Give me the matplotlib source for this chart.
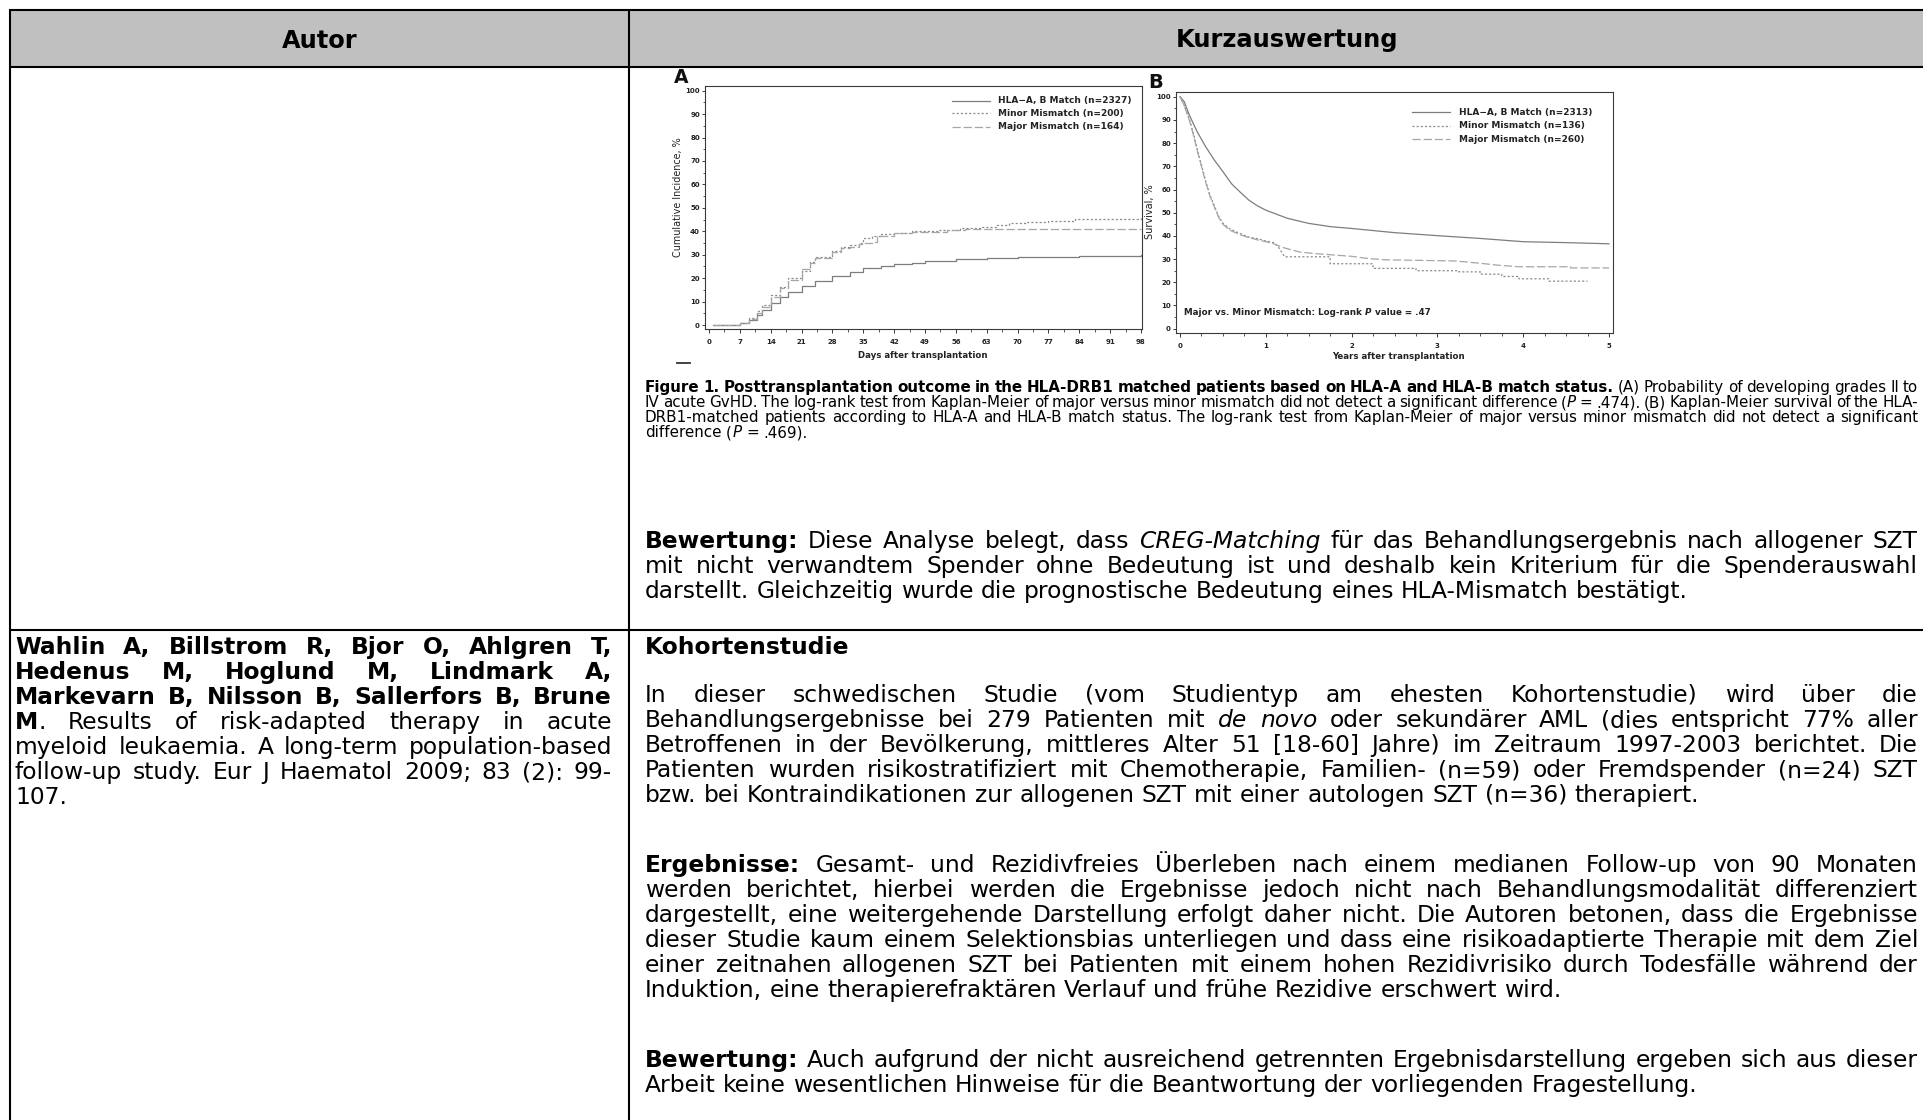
import matplotlib
matplotlib.use("Agg")
import matplotlib.pyplot as plt
from matplotlib.patches import Rectangle

W, H, DPI = 1924, 1120, 100
plt.rcParams["font.family"] = ["DejaVu Sans"]
plt.rcParams["lines.scale_dashes"] = False

# ---------------- table header ----------------
header_labels = ["Autor", "Kurzauswertung"]

# ---------------- panel A: cumulative incidence of acute GvHD ----------------
legend_a = ["HLA\u2212A, B Match (n=2327)", "Minor Mismatch (n=200)", "Major Mismatch (n=164)"]
days_match = [1, 6, 7, 9, 11, 12, 14, 16, 18, 21, 24, 28, 32, 35, 39, 42, 46, 49, 56, 63, 70, 77, 84, 90, 98]
cuminc_match = [0, 0, 0.7, 2.1, 4.3, 6.4, 9.5, 11.8, 14.2, 16.8, 18.9, 20.9, 22.8, 24.5, 25.3, 26.0,
                26.6, 27.2, 28.0, 28.6, 29.0, 29.2, 29.3, 29.6, 29.9]
days_minor = [1, 6, 7, 9, 11, 12, 14, 16, 18, 21, 23, 24, 28, 30, 32, 34, 35, 37, 39, 42, 46, 49, 52,
              57, 62, 65, 68, 72, 77, 83, 98]
cuminc_minor = [0, 0, 0.9, 2.8, 6.1, 8.5, 12.8, 16.4, 19.9, 23.2, 27.0, 29.2, 31.7, 33.4, 34.1, 35.1,
                37.0, 38.1, 39.0, 39.4, 40.0, 40.3, 40.5, 41.3, 42.0, 42.7, 43.4, 43.8, 44.4, 45.2, 45.5]
days_major = [1, 6, 7, 9, 11, 12, 14, 16, 18, 21, 23, 24, 28, 30, 32, 34, 35, 37, 38, 42, 46, 49, 54, 58, 98]
cuminc_major = [0, 0, 0.7, 2.4, 5.3, 7.8, 11.8, 15.6, 19.2, 23.8, 26.3, 28.4, 31.3, 32.7, 33.4, 34.6,
                35.1, 35.6, 38.0, 39.4, 39.7, 39.8, 40.5, 41.0, 41.0]
days_ticks = [0, 7, 14, 21, 28, 35, 42, 49, 56, 63, 70, 77, 84, 91, 98]
pct_ticks = [0, 10, 20, 30, 40, 50, 60, 70, 80, 90, 100]
ylabel_a = "Cumulative Incidence, %"
xlabel_a = "Days after transplantation"

# ---------------- panel B: overall survival ----------------
legend_b = ["HLA\u2212A, B Match (n=2313)", "Minor Mismatch (n=136)", "Major Mismatch (n=260)"]
years_match = [0, 0.05, 0.1, 0.2, 0.3, 0.4, 0.5, 0.6, 0.7, 0.8, 0.9, 1.0, 1.25, 1.5, 1.75, 2.0, 2.5,
               3.0, 3.5, 4.0, 4.5, 5.0]
surv_match = [100, 97.8, 92.8, 84.9, 78.4, 72.7, 67.7, 62.5, 58.9, 55.5, 53.0, 51.1, 47.6, 45.4, 44.0,
              43.2, 41.4, 40.1, 38.9, 37.5, 37.1, 36.6]
years_minor = [0, 0.04, 0.08, 0.12, 0.16, 0.2, 0.25, 0.3, 0.35, 0.4, 0.45, 0.5, 0.58, 0.7, 0.8, 0.9,
               1.0, 1.1, 1.15, 1.22, 1.75, 1.75, 2.25, 2.25, 2.75, 2.75, 3.25, 3.25, 3.5, 3.5, 3.75,
               3.75, 3.95, 3.95, 4.3, 4.3, 4.75]
surv_minor = [100, 97, 93.5, 89, 83.5, 77.5, 70.5, 63.5, 57.5, 53, 48.5, 45.5, 43, 41, 39.5, 38.8,
              37.8, 37, 35, 31, 31, 28, 28, 26, 26, 25, 25, 24.5, 24.5, 23.5, 23.5, 22.5, 22.5,
              21.5, 21.5, 20.5, 20.5]
years_major = [0, 0.04, 0.08, 0.12, 0.16, 0.2, 0.25, 0.3, 0.35, 0.4, 0.45, 0.5, 0.58, 0.7, 0.8, 0.9,
               1.0, 1.1, 1.2, 1.4, 1.6, 2.0, 2.2, 2.4, 3.2, 3.5, 3.7, 3.95, 4.55, 4.55, 5.0]
surv_major = [100, 97, 93, 88.5, 83, 77, 70, 63, 57, 52.5, 48, 45, 42.5, 40.5, 39.3, 38.3, 37.5, 36.5,
              35, 33, 32.3, 31.2, 30.2, 29.7, 29.2, 28.2, 27.4, 26.7, 26.7, 26.2, 26.2]
years_ticks = [0, 1, 2, 3, 4, 5]
ylabel_b = "Survival, %"
xlabel_b = "Years after transplantation"
logrank_note = [("Major vs. Minor Mismatch: Log-rank ", "b"), ("P", "bi"), (" value = .47", "b")]

# ---------------- table text ----------------
caption_lines = [
    [("Figure 1. Posttransplantation outcome in the HLA-DRB1 matched patients based on HLA-A and "
      "HLA-B match status.", "b"), (" (A) Probability of developing grades II to", "n")],
    [("IV acute GvHD. The log-rank test from Kaplan-Meier of major versus minor mismatch did not "
      "detect a significant difference (", "n"), ("P", "i"),
     (" = .474). (B) Kaplan-Meier survival of the HLA-", "n")],
    [("DRB1-matched patients according to HLA-A and HLA-B match status. The log-rank test from "
      "Kaplan-Meier of major versus minor mismatch did not detect a significant", "n")],
    [("difference (", "n"), ("P", "i"), (" = .469).", "n")],
]
rating_lines_1 = [
    [("Bewertung:", "b"), (" Diese Analyse belegt, dass ", "n"), ("CREG-Matching", "i"),
     (" für das Behandlungsergebnis nach allogener SZT", "n")],
    [("mit nicht verwandtem Spender ohne Bedeutung ist und deshalb kein Kriterium für die "
      "Spenderauswahl", "n")],
    [("darstellt. Gleichzeitig wurde die prognostische Bedeutung eines HLA-Mismatch bestätigt.", "n")],
]
author_lines = [
    [("Wahlin A, Billstrom R, Bjor O, Ahlgren T,", "b")],
    [("Hedenus M, Hoglund M, Lindmark A,", "b")],
    [("Markevarn B, Nilsson B, Sallerfors B, Brune", "b")],
    [("M", "b"), (". Results of risk-adapted therapy in acute", "n")],
    [("myeloid leukaemia. A long-term population-based", "n")],
    [("follow-up study. Eur J Haematol 2009; 83 (2): 99-", "n")],
    [("107.", "n")],
]
study_type = [[("Kohortenstudie", "b")]]
methods_lines = [
    [("In dieser schwedischen Studie (vom Studientyp am ehesten Kohortenstudie) wird über die", "n")],
    [("Behandlungsergebnisse bei 279 Patienten mit ", "n"), ("de novo", "i"),
     (" oder sekundärer AML (dies entspricht 77% aller", "n")],
    [("Betroffenen in der Bevölkerung, mittleres Alter 51 [18-60] Jahre) im Zeitraum 1997-2003 "
      "berichtet. Die", "n")],
    [("Patienten wurden risikostratifiziert mit Chemotherapie, Familien- (n=59) oder Fremdspender "
      "(n=24) SZT", "n")],
    [("bzw. bei Kontraindikationen zur allogenen SZT mit einer autologen SZT (n=36) therapiert.", "n")],
]
results_lines = [
    [("Ergebnisse:", "b"), (" Gesamt- und Rezidivfreies Überleben nach einem medianen Follow-up von "
                             "90 Monaten", "n")],
    [("werden berichtet, hierbei werden die Ergebnisse jedoch nicht nach Behandlungsmodalität "
      "differenziert", "n")],
    [("dargestellt, eine weitergehende Darstellung erfolgt daher nicht. Die Autoren betonen, dass die "
      "Ergebnisse", "n")],
    [("dieser Studie kaum einem Selektionsbias unterliegen und dass eine risikoadaptierte Therapie mit "
      "dem Ziel", "n")],
    [("einer zeitnahen allogenen SZT bei Patienten mit einem hohen Rezidivrisiko durch Todesfälle "
      "während der", "n")],
    [("Induktion, eine therapierefraktären Verlauf und frühe Rezidive erschwert wird.", "n")],
]
rating_lines_2 = [
    [("Bewertung:", "b"), (" Auch aufgrund der nicht ausreichend getrennten Ergebnisdarstellung "
                            "ergeben sich aus dieser", "n")],
    [("Arbeit keine wesentlichen Hinweise für die Beantwortung der vorliegenden Fragestellung.", "n")],
]

# ---------------- page canvas in pixel units ----------------
STY = {
    "n": dict(fontweight="normal", fontstyle="normal"),
    "b": dict(fontweight="bold", fontstyle="normal"),
    "i": dict(fontweight="normal", fontstyle="italic"),
    "bi": dict(fontweight="bold", fontstyle="italic"),
}
TXT = "#222222"
FRAME = "#3a3a3a"

fig = plt.figure(figsize=(W / DPI, H / DPI), dpi=DPI)
page = fig.add_axes([0, 0, 1, 1])
page.set_xlim(0, W)
page.set_ylim(H, 0)
page.axis("off")
renderer = fig.canvas.get_renderer()

_cache = {}


def text_w(s, fs, st):
    key = (s, round(fs, 4), st)
    if key not in _cache:
        t = page.text(0, 0, s, fontsize=fs, **STY[st])
        _cache[key] = t.get_window_extent(renderer).width
        t.remove()
    return _cache[key]


def space_w(fs, st="n"):
    return text_w("a a", fs, st) - text_w("aa", fs, st)


def fit_size(runs, target):
    return 10.0 * target / sum(text_w(s, 10.0, st) for s, st in runs)


def split_words(runs):
    words = [[]]
    for text, st in runs:
        for i, part in enumerate(text.split(" ")):
            if i > 0:
                words.append([])
            if part:
                words[-1].append((part, st))
    return [w for w in words if w]


def draw_line(runs, x0, x1, y, fs, justify, color="black"):
    words = split_words(runs)
    widths = [[text_w(p, fs, st) for p, st in w] for w in words]
    total = sum(sum(ws) for ws in widths)
    sp = space_w(fs)
    gap = sp
    if justify and len(words) > 1:
        gap = max((x1 - x0 - total) / (len(words) - 1), 0.5 * sp)
    x = x0
    for w, ws in zip(words, widths):
        for (p, st), pw in zip(w, ws):
            page.text(x, y, p, fontsize=fs, va="baseline", ha="left", color=color, **STY[st])
            x += pw
        x += gap


def draw_par(lines, x0, x1, y0, lead, fs):
    for i, runs in enumerate(lines):
        draw_line(runs, x0, x1, y0 + i * lead, fs, i < len(lines) - 1)


body_fs = fit_size(rating_lines_2[-1], 1049)
head_fs = fit_size([(header_labels[1], "b")], 223)
cap_fs = fit_size(caption_lines[-1], 162.5)

# ---------------- table grid ----------------
LW = 1.5
TABLE_R = 1945
page.add_patch(Rectangle((10, 10), TABLE_R - 10, 57, facecolor="#c0c0c0", edgecolor="none", zorder=0))
for y in (10, 67, 630):
    page.plot([9, TABLE_R], [y, y], color="black", lw=LW, solid_capstyle="butt", zorder=2)
for x in (10, 629):
    page.plot([x, x], [9, H + 5], color="black", lw=LW, solid_capstyle="butt", zorder=2)

page.text(319.5, 47.5, header_labels[0], fontsize=head_fs, ha="center", va="baseline", **STY["b"])
page.text(1287, 47.5, header_labels[1], fontsize=head_fs, ha="center", va="baseline", **STY["b"])

# ---------------- text blocks ----------------
RX0, RX1 = 645, 1918
LX0, LX1 = 15, 612
LEAD = 25
draw_par(caption_lines, RX0, RX1, 392, 15, cap_fs)
draw_par(rating_lines_1, RX0, RX1, 548, LEAD, body_fs)
draw_par(author_lines, LX0, LX1, 654, LEAD, body_fs)
draw_par(study_type, RX0, RX1, 654, LEAD, body_fs)
draw_par(methods_lines, RX0, RX1, 702, LEAD, body_fs)
draw_par(results_lines, RX0, RX1, 872, LEAD, body_fs)
draw_par(rating_lines_2, RX0, RX1, 1067, LEAD, body_fs)

# ---------------- embedded survival figure ----------------
LINE_STYLES = [
    dict(color="#7d7d7d", ls="-"),
    dict(color="#8a8a8a", ls=(0, (1.5, 1.5))),
    dict(color="#a6a6a6", ls=(0, (6, 2))),
]


def pix_map(p, p_a, v_a, p_b, v_b):
    return v_a + (p - p_a) * (v_b - v_a) / (p_b - p_a)


def chart_axes(box, xcal, ycal):
    l, t, r, b = box
    ax = fig.add_axes([l / W, 1 - b / H, (r - l) / W, (b - t) / H])
    ax.set_facecolor("none")
    ax.set_xlim(pix_map(l, *xcal), pix_map(r, *xcal))
    ax.set_ylim(pix_map(b, *ycal), pix_map(t, *ycal))
    for s in ax.spines.values():
        s.set_color(FRAME)
        s.set_linewidth(0.8)
    return ax


def style_ticks(ax, xticks, xminor, yminor, xlabels):
    ax.set_xticks(xticks)
    ax.set_xticklabels(xlabels)
    ax.set_xticks(xminor, minor=True)
    ax.set_yticks(pct_ticks)
    ax.set_yticks(yminor, minor=True)
    ax.tick_params(axis="both", which="both", color=FRAME, labelcolor=TXT, direction="out")
    ax.tick_params(axis="x", which="major", length=3, width=0.7, pad=4.5, labelsize=5)
    ax.tick_params(axis="x", which="minor", length=1.8, width=0.6)
    ax.tick_params(axis="y", which="major", length=2.4, width=0.7, pad=1.2, labelsize=5)
    ax.tick_params(axis="y", which="minor", length=1.4, width=0.6)
    for lab in ax.get_xticklabels() + ax.get_yticklabels():
        lab.set_fontweight("bold")


def draw_legend(ax, box, labels, x0, x1, xt, rows, fs):
    l, t, r, b = box
    for lab, y, sty in zip(labels, rows, LINE_STYLES):
        fy = (b - y) / (b - t)
        ax.plot([(x0 - l) / (r - l), (x1 - l) / (r - l)], [fy, fy], transform=ax.transAxes,
                lw=0.9, **sty)
        ax.text((xt - l) / (r - l), fy, lab, transform=ax.transAxes, fontsize=fs, va="center",
                ha="left", color=TXT, fontweight="bold")


# panel A
box_a = (705, 86, 1142, 329)
ax_a = chart_axes(box_a, (709, 0, 1141, 98), (325, 0, 90.7, 100))
for d, v, sty in zip([days_match, days_minor, days_major],
                     [cuminc_match, cuminc_minor, cuminc_major], LINE_STYLES):
    ax_a.plot(d, v, drawstyle="steps-post", lw=0.9, **sty)
style_ticks(ax_a, days_ticks, [t + 3.5 for t in days_ticks[:-1]], [t + 5 for t in pct_ticks[:-1]],
            [str(t) for t in days_ticks])
leg_fs = fit_size([(legend_a[0], "b")], 133)
draw_legend(ax_a, box_a, legend_a, 952, 990, 998, [100.7, 113.3, 126.7], leg_fs)
ax_a.set_xlabel(xlabel_a, fontsize=fit_size([(xlabel_a, "b")], 129), fontweight="bold", color=TXT,
                va="center")
ax_a.xaxis.set_label_coords((923 - 705) / (1142 - 705), (329 - 356) / (329 - 86))
ax_a.set_ylabel(ylabel_a, fontsize=fit_size([(ylabel_a, "n")], 120), color=TXT, va="center")
ax_a.yaxis.set_label_coords((678 - 705) / (1142 - 705), (329 - 197) / (329 - 86))

# panel B
box_b = (1176, 92, 1613, 333)
ax_b = chart_axes(box_b, (1180, 0, 1609, 5), (328.7, 0, 96.7, 100))
for d, v, sty in zip([years_match, years_minor, years_major],
                     [surv_match, surv_minor, surv_major], LINE_STYLES):
    ax_b.plot(d, v, lw=0.9, **sty)
style_ticks(ax_b, years_ticks, [t + q for t in years_ticks[:-1] for q in (0.25, 0.5, 0.75)],
            [t + 5 for t in pct_ticks[:-1]], [str(t) for t in years_ticks])
draw_legend(ax_b, box_b, legend_b, 1412, 1450, 1459, [112.3, 125.7, 139.0],
            fit_size([(legend_b[0], "b")], 133))
ax_b.set_xlabel(xlabel_b, fontsize=fit_size([(xlabel_b, "b")], 131.7), fontweight="bold", color=TXT,
                va="center")
ax_b.xaxis.set_label_coords((1398 - 1176) / (1613 - 1176), (333 - 357) / (333 - 92))
ax_b.set_ylabel(ylabel_b, fontsize=fit_size([(ylabel_b, "n")], 55), color=TXT, va="center")
ax_b.yaxis.set_label_coords((1150 - 1176) / (1613 - 1176), (333 - 211.7) / (333 - 92))

# log-rank note inside panel B
note_fs = fit_size(logrank_note, 245.7)
x = 1184.3
for s, st in logrank_note:
    page.text(x, 312.3, s, fontsize=note_fs, va="center", ha="left", color=TXT, **STY[st])
    x += text_w(s, note_fs, st)

# panel letters and stray mark below panel A
page.text(674, 83, "A", fontsize=13.5, fontweight="bold", va="baseline", color="#111111")
page.text(1148, 88, "B", fontsize=14, fontweight="bold", va="baseline", color="#111111")
page.plot([677, 690], [363, 363], color="#333333", lw=1.3)

fig.savefig("out.png", dpi=DPI)
